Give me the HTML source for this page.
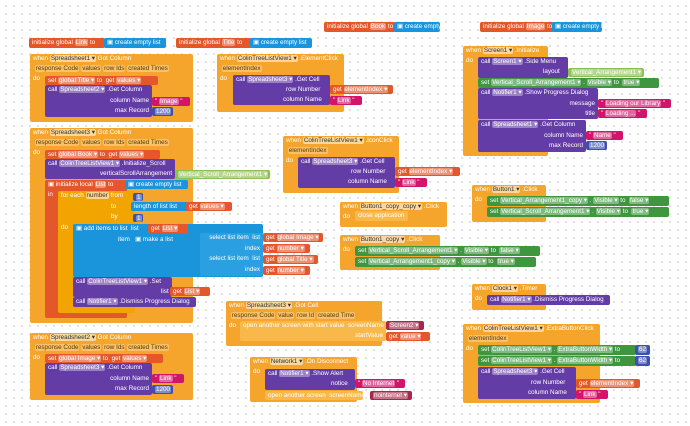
<!DOCTYPE html>
<html><head><meta charset="utf-8"><style>
html,body{margin:0;padding:0}
body{width:690px;height:426px;position:relative;overflow:hidden;background:#fff;
background-image:radial-gradient(circle,#c8c8c8 0.7px,transparent 0.9px);background-size:8px 8px;background-position:2px 2px}
.b{position:absolute;font:6.3px "Liberation Sans",sans-serif;color:#fff;line-height:9px;padding:0 0 0 3px;white-space:nowrap;overflow:hidden;border-radius:2px;box-sizing:border-box}
.ev{background:#F5A52C}
.ct{background:#F2A400}
.va{background:#E4572A}
.pu{background:#643CA6}
.bl{background:#1A95DB}
.tx{background:#D2156A}
.gr{background:#3E963E}
.lg{background:#8CC152}
.ma{background:#3E4FB0}
.sc{background:#A6284A}
.lo{background:#F9B94A}
.f{background:rgba(255,255,255,.35);border-radius:2px;padding:0 1px;color:#fff}
.e{background:rgba(255,255,255,.3);border-radius:2px;padding:0 1px;color:#fff}
.ev .f,.ct .f,.lo .f{color:#333;background:rgba(255,255,255,.55)}
.ev .e{color:#5a3a00;background:rgba(255,255,255,.3)}
.r{text-align:right;padding-right:3px}
</style></head><body>

<div class="b va" style="left:324px;top:22px;width:72px;height:10px">initialize global <span class="f">Book</span> to</div>
<div class="b bl" style="left:394px;top:22px;width:46px;height:10px">▣ create empty list</div>
<div class="b va" style="left:480px;top:22px;width:74px;height:10px">initialize global <span class="f">Image</span> to</div>
<div class="b bl" style="left:552px;top:22px;width:50px;height:10px">▣ create empty list</div>
<div class="b va" style="left:29px;top:38px;width:76px;height:10px">initialize global <span class="f">Link</span> to</div>
<div class="b bl" style="left:104px;top:38px;width:62px;height:10px">▣ create empty list</div>
<div class="b va" style="left:176px;top:38px;width:76px;height:10px">initialize global <span class="f">Title</span> to</div>
<div class="b bl" style="left:250px;top:38px;width:62px;height:10px">▣ create empty list</div>

<div class="b ev" style="left:30px;top:54px;width:163px;height:68px;line-height:10px">when <span class="f">Spreadsheet1 ▾</span> Got Column<br>&nbsp;<span class="e">response Code</span> <span class="e">values</span> <span class="e">row Ids</span> <span class="e">created Times</span><br>do</div>
<div class="b va" style="left:45px;top:76px;width:113px;height:9px">set <span class="f">global Title ▾</span> to &nbsp;get <span class="f">values ▾</span></div>
<div class="b pu" style="left:45px;top:85px;width:107px;height:32px;line-height:10px">call <span class="f">Spreadsheet2 ▾</span> .Get Column</div>
<div class="b pu r" style="left:45px;top:96px;width:107px;height:20px;background:transparent;line-height:10px">column Name<br>max Record</div>
<div class="b tx" style="left:152px;top:97px;width:38px;height:9px">" <span class="f">Image</span> "</div>
<div class="b ma" style="left:152px;top:107px;width:21px;height:9px"><span class="f">1200</span></div>

<div class="b ev" style="left:30px;top:128px;width:163px;height:195px;line-height:10px">when <span class="f">Spreadsheet3 ▾</span> Got Column<br>&nbsp;<span class="e">response Code</span> <span class="e">values</span> <span class="e">row Ids</span> <span class="e">created Times</span><br>do</div>
<div class="b va" style="left:45px;top:150px;width:115px;height:9px">set <span class="f">global Book ▾</span> to &nbsp;get <span class="f">values ▾</span></div>
<div class="b pu" style="left:45px;top:159px;width:130px;height:20px;line-height:10px">call <span class="f">ColinTreeListView1 ▾</span> .Initialize_Scroll<br><span style="padding-left:52px">verticalScrollArrangement</span></div>
<div class="b lg" style="left:175px;top:170px;width:95px;height:9px"><span class="f">Vertical_Scroll_Arrangement1 ▾</span></div>
<div class="b va" style="left:45px;top:180px;width:82px;height:138px;line-height:10px">▣ initialize local <span class="f">List</span> to<br>in</div>
<div class="b bl" style="left:125px;top:180px;width:63px;height:9px">▣ create empty list</div>
<div class="b ct" style="left:58px;top:191px;width:77px;height:122px;line-height:10.5px">for each <span class="f">number</span> from<br><span style="padding-left:50px">to</span><br><span style="padding-left:50px">by</span><br>do</div>
<div class="b ma" style="left:133px;top:193px;width:10px;height:8px"><span class="f">1</span></div>
<div class="b bl" style="left:131px;top:202px;width:57px;height:9px">length of list list</div>
<div class="b va" style="left:186px;top:202px;width:46px;height:9px">get <span class="f">values ▾</span></div>
<div class="b ma" style="left:133px;top:214px;width:10px;height:8px"><span class="f">1</span></div>
<div class="b bl" style="left:73px;top:224px;width:190px;height:53px;line-height:10.5px">▣ add items to list &nbsp;list<br><span style="padding-left:42px">item</span> &nbsp;&nbsp;▣ make a list</div>
<div class="b bl r" style="left:200px;top:233px;width:63px;height:43px;background:#2AA0E2;line-height:10.7px">select list item &nbsp;list<br>index<br>select list item &nbsp;list<br>index</div>
<div class="b va" style="left:148px;top:224px;width:40px;height:9px">get <span class="f">List ▾</span></div>
<div class="b va" style="left:263px;top:233px;width:60px;height:9px">get <span class="f">global Image ▾</span></div>
<div class="b va" style="left:263px;top:244px;width:47px;height:9px">get <span class="f">number ▾</span></div>
<div class="b va" style="left:263px;top:255px;width:55px;height:9px">get <span class="f">global Title ▾</span></div>
<div class="b va" style="left:263px;top:266px;width:47px;height:9px">get <span class="f">number ▾</span></div>
<div class="b pu" style="left:73px;top:277px;width:99px;height:20px;line-height:10px">call <span class="f">ColinTreeListView1 ▾</span> .Set<br><span style="padding-left:85px">list</span></div>
<div class="b va" style="left:170px;top:287px;width:40px;height:9px">get <span class="f">List ▾</span></div>
<div class="b pu" style="left:73px;top:297px;width:123px;height:10px">call <span class="f">Notifier1 ▾</span> .Dismiss Progress Dialog</div>

<div class="b ev" style="left:30px;top:333px;width:163px;height:67px;line-height:10px">when <span class="f">Spreadsheet2 ▾</span> Got Column<br>&nbsp;<span class="e">response Code</span> <span class="e">values</span> <span class="e">row Ids</span> <span class="e">created Times</span><br>do</div>
<div class="b va" style="left:45px;top:354px;width:118px;height:9px">set <span class="f">global Image ▾</span> to &nbsp;get <span class="f">values ▾</span></div>
<div class="b pu" style="left:45px;top:363px;width:107px;height:32px;line-height:10px">call <span class="f">Spreadsheet3 ▾</span> .Get Column</div>
<div class="b pu r" style="left:45px;top:374px;width:107px;height:20px;background:transparent;line-height:10px">column Name<br>max Record</div>
<div class="b tx" style="left:152px;top:374px;width:32px;height:9px">" <span class="f">Link</span> "</div>
<div class="b ma" style="left:152px;top:385px;width:21px;height:9px"><span class="f">1200</span></div>

<div class="b ev" style="left:217px;top:54px;width:127px;height:58px;line-height:10px">when <span class="f">ColinTreeListView1 ▾</span> .ElementClick<br>&nbsp;<span class="e">elementIndex</span><br>do</div>
<div class="b pu" style="left:233px;top:75px;width:97px;height:30px;line-height:10px">call <span class="f">Spreadsheet3 ▾</span> .Get Cell<br><span style="padding-left:50px">row Number</span><br><span style="padding-left:47px">column Name</span></div>
<div class="b va" style="left:330px;top:85px;width:63px;height:9px">get <span class="f">elementIndex ▾</span></div>
<div class="b tx" style="left:330px;top:96px;width:32px;height:9px">" <span class="f">Link</span> "</div>

<div class="b ev" style="left:283px;top:136px;width:116px;height:57px;line-height:10px">when <span class="f">ColinTreeListView1 ▾</span> .IconClick<br>&nbsp;<span class="e">elementIndex</span><br>do</div>
<div class="b pu" style="left:298px;top:157px;width:97px;height:31px;line-height:10px">call <span class="f">Spreadsheet3 ▾</span> .Get Cell<br><span style="padding-left:50px">row Number</span><br><span style="padding-left:47px">column Name</span></div>
<div class="b va" style="left:395px;top:167px;width:65px;height:9px">get <span class="f">elementIndex ▾</span></div>
<div class="b tx" style="left:395px;top:178px;width:32px;height:9px">" <span class="f">Link</span> "</div>

<div class="b ev" style="left:340px;top:202px;width:107px;height:25px;line-height:10px">when <span class="f">Button1_copy_copy ▾</span> .Click<br>do</div>
<div class="b lo" style="left:355px;top:211px;width:53px;height:10px">close application</div>

<div class="b ev" style="left:340px;top:235px;width:100px;height:35px;line-height:10px">when <span class="f">Button1_copy ▾</span> .Click<br>do</div>
<div class="b gr" style="left:355px;top:246px;width:185px;height:10px">set <span class="f">Vertical_Scroll_Arrangement1 ▾</span> . <span class="f">Visible ▾</span> to &nbsp;<span class="f">false ▾</span></div>
<div class="b gr" style="left:355px;top:257px;width:181px;height:10px">set <span class="f">Vertical_Arrangement1_copy ▾</span> . <span class="f">Visible ▾</span> to &nbsp;<span class="f">true ▾</span></div>

<div class="b ev" style="left:226px;top:301px;width:156px;height:45px;line-height:10px">when <span class="f">Spreadsheet3 ▾</span> .Got Cell<br>&nbsp;<span class="e">response Code</span> <span class="e">value</span> <span class="e">row Id</span> <span class="e">created Time</span><br>do</div>
<div class="b lo r" style="left:240px;top:321px;width:146px;height:20px;line-height:10px">open another screen with start value &nbsp;screenName<br>startValue</div>
<div class="b sc" style="left:386px;top:321px;width:38px;height:9px"><span class="f">Screen2 ▾</span></div>
<div class="b va" style="left:386px;top:332px;width:44px;height:9px">get <span class="f">value ▾</span></div>

<div class="b ev" style="left:250px;top:357px;width:107px;height:45px;line-height:10px">when <span class="f">Network1 ▾</span> .On Disconnect<br>do</div>
<div class="b pu" style="left:265px;top:369px;width:90px;height:21px;line-height:10px">call <span class="f">Notifier1 ▾</span> .Show Alert<br><span style="padding-left:63px">notice</span></div>
<div class="b tx" style="left:355px;top:379px;width:50px;height:9px">" <span class="f">No Internet</span> "</div>
<div class="b lo" style="left:265px;top:391px;width:98px;height:9px">open another screen &nbsp;screenName</div>
<div class="b sc" style="left:370px;top:391px;width:42px;height:9px"><span class="f">nointernet ▾</span></div>

<div class="b ev" style="left:463px;top:46px;width:85px;height:110px;line-height:10px">when <span class="f">Screen1 ▾</span> .Initialize<br>do</div>
<div class="b pu" style="left:478px;top:57px;width:90px;height:21px;line-height:10px">call <span class="f">Screen1 ▾</span> .Side Menu<br><span style="padding-left:62px">layout</span></div>
<div class="b lg" style="left:568px;top:68px;width:76px;height:9px"><span class="f">Vertical_Arrangement1 ▾</span></div>
<div class="b gr" style="left:478px;top:78px;width:181px;height:10px">set <span class="f">Vertical_Scroll_Arrangement1 ▾</span> . <span class="f">Visible ▾</span> to &nbsp;<span class="f">true ▾</span></div>
<div class="b pu" style="left:478px;top:88px;width:120px;height:31px;line-height:10px">call <span class="f">Notifier1 ▾</span> .Show Progress Dialog</div>
<div class="b pu r" style="left:478px;top:99px;width:120px;height:20px;background:transparent;line-height:10px">message<br>title</div>
<div class="b tx" style="left:598px;top:99px;width:73px;height:9px">" <span class="f">Loading our Library</span> "</div>
<div class="b tx" style="left:598px;top:109px;width:49px;height:9px">" <span class="f">Loading ...</span> "</div>
<div class="b pu" style="left:478px;top:120px;width:108px;height:32px;line-height:10px">call <span class="f">Spreadsheet1 ▾</span> .Get Column</div>
<div class="b pu r" style="left:478px;top:131px;width:108px;height:20px;background:transparent;line-height:10px">column Name<br>max Record</div>
<div class="b tx" style="left:586px;top:131px;width:37px;height:9px">" <span class="f">Name</span> "</div>
<div class="b ma" style="left:586px;top:141px;width:21px;height:9px"><span class="f">1200</span></div>

<div class="b ev" style="left:472px;top:185px;width:74px;height:37px;line-height:10px">when <span class="f">Button1 ▾</span> .Click<br>do</div>
<div class="b gr" style="left:487px;top:196px;width:182px;height:10px">set <span class="f">Vertical_Arrangement1_copy ▾</span> . <span class="f">Visible ▾</span> to &nbsp;<span class="f">false ▾</span></div>
<div class="b gr" style="left:487px;top:207px;width:182px;height:10px">set <span class="f">Vertical_Scroll_Arrangement1 ▾</span> . <span class="f">Visible ▾</span> to &nbsp;<span class="f">true ▾</span></div>

<div class="b ev" style="left:472px;top:284px;width:74px;height:26px;line-height:10px">when <span class="f">Clock1 ▾</span> .Timer<br>do</div>
<div class="b pu" style="left:487px;top:295px;width:123px;height:10px">call <span class="f">Notifier1 ▾</span> .Dismiss Progress Dialog</div>

<div class="b ev" style="left:463px;top:324px;width:137px;height:79px;line-height:10px">when <span class="f">ColinTreeListView1 ▾</span> .ExtraButtonClick<br>&nbsp;<span class="e">elementIndex</span><br>do</div>
<div class="b gr" style="left:478px;top:345px;width:158px;height:10px">set <span class="f">ColinTreeListView1 ▾</span> . <span class="f">ExtraButtonWidth ▾</span> to</div>
<div class="b ma" style="left:635px;top:345px;width:15px;height:10px"><span class="f">62</span></div>
<div class="b gr" style="left:478px;top:356px;width:158px;height:10px">set <span class="f">ColinTreeListView1 ▾</span> . <span class="f">ExtraButtonWidth ▾</span> to</div>
<div class="b ma" style="left:635px;top:356px;width:15px;height:10px"><span class="f">62</span></div>
<div class="b pu" style="left:478px;top:367px;width:98px;height:32px;line-height:10.5px">call <span class="f">Spreadsheet3 ▾</span> .Get Cell<br><span style="padding-left:50px">row Number</span><br><span style="padding-left:47px">column Name</span></div>
<div class="b va" style="left:576px;top:379px;width:64px;height:9px">get <span class="f">elementIndex ▾</span></div>
<div class="b tx" style="left:576px;top:390px;width:32px;height:9px">" <span class="f">Link</span> "</div>

</body></html>
